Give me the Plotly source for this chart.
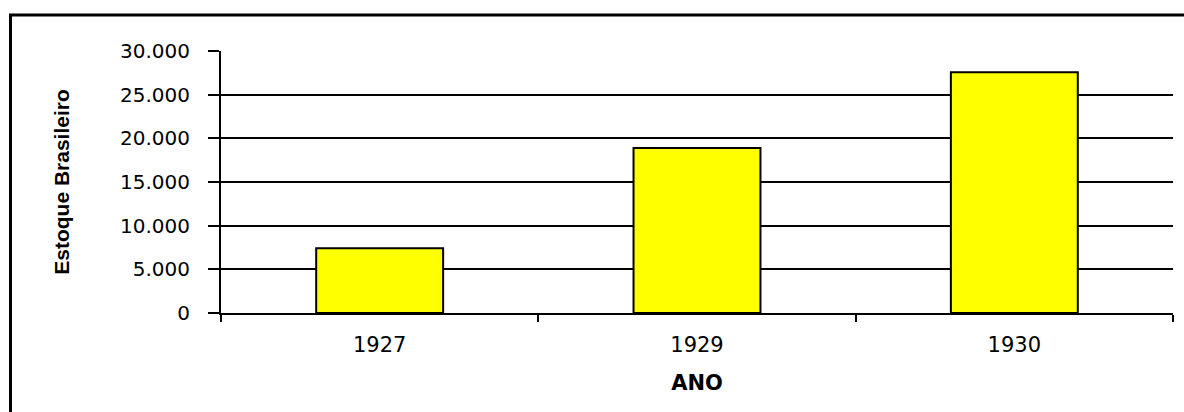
import plotly.graph_objects as go

years = ["1927", "1929", "1930"]
estoque = [7400, 18900, 27560]
y_ticks = [0, 5000, 10000, 15000, 20000, 25000, 30000]

W, H = 1184, 412
L, R, T, B = 221, 11, 51, 99
pw, ph = W - L - R, H - T - B

def px_x(px):
    return (px - L) / pw

def px_y(py):
    return (H - B - py) / ph

fig = go.Figure()
fig.add_trace(go.Bar(
    x=years, y=estoque,
    marker=dict(color="#FFFF00", line=dict(color="black", width=2)),
    width=0.4,
))

fig.update_layout(
    width=W, height=H,
    margin=dict(l=L, r=R, t=T, b=B, pad=0),
    paper_bgcolor="white", plot_bgcolor="white",
    separators=",.",
    showlegend=False,
    font=dict(family="DejaVu Sans", color="black"),
    xaxis=dict(
        type="category",
        tickson="boundaries",
        ticks="outside", ticklen=7, tickwidth=2, tickcolor="black",
        showline=True, linecolor="black", linewidth=2,
        showgrid=False,
        tickfont=dict(family="DejaVu Sans", size=21, color="black"),
        ticklabelstandoff=12,
        range=[-0.5, 2.5],
        title=dict(text="<b>ANO</b>", font=dict(family="DejaVu Sans", size=21, color="black"), standoff=19),
    ),
    yaxis=dict(
        range=[0, 30000],
        tickvals=y_ticks,
        tickformat=",d",
        ticks="outside", ticklen=11, tickwidth=2, tickcolor="black",
        showline=True, linecolor="black", linewidth=2,
        showgrid=True, gridcolor="black", gridwidth=1.5,
        zeroline=False,
        tickfont=dict(family="DejaVu Sans", size=20, color="black"),
        ticklabelstandoff=14,
        title=dict(text="<b>Estoque Brasileiro</b>", font=dict(family="Liberation Sans", size=21, color="black"), standoff=45),
    ),
)

# outer frame of the chart area (left and top edges visible)
fig.add_shape(type="line", xref="paper", yref="paper",
              x0=px_x(10.5), x1=px_x(10.5), y0=px_y(15), y1=px_y(430),
              line=dict(color="black", width=3), layer="above")
fig.add_shape(type="line", xref="paper", yref="paper",
              x0=px_x(9), x1=px_x(1200), y0=px_y(15), y1=px_y(15),
              line=dict(color="black", width=3), layer="above")

fig.write_html("out.html", config={"displayModeBar": False},
               post_script="document.body.style.margin='0';document.body.style.overflow='hidden';")
